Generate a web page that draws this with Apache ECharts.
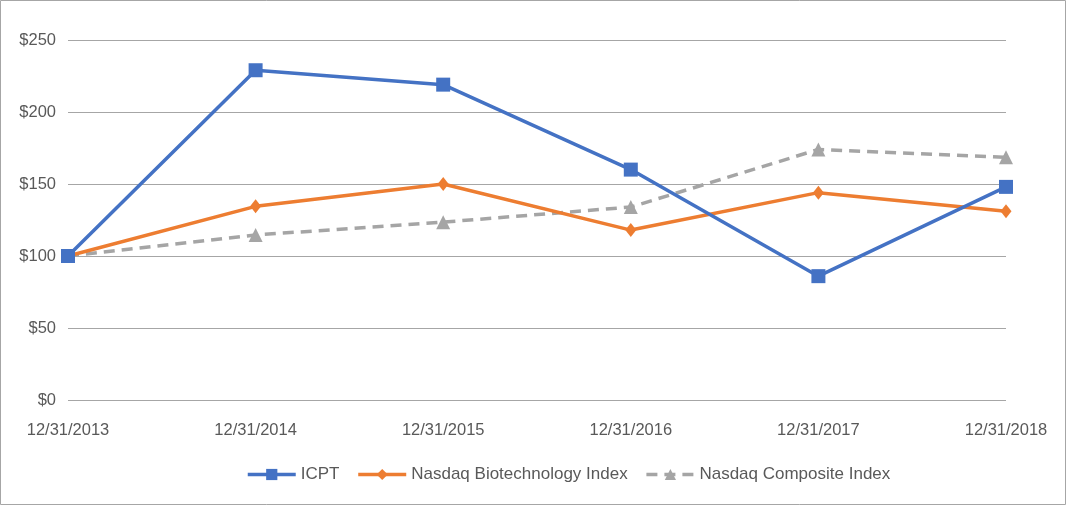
<!DOCTYPE html>
<html><head><meta charset="utf-8">
<script src="https://cdn.jsdelivr.net/npm/echarts@6/dist/echarts.min.js"></script>
<style>html,body{margin:0;padding:0;background:#fff}#c{width:1067px;height:506px}</style>
</head><body><div id="c"></div>
<script>
const categories = ['12/31/2013','12/31/2014','12/31/2015','12/31/2016','12/31/2017','12/31/2018'];
const icpt = [100, 229, 219, 160, 86, 148];
const nbi = [100, 134.5, 150, 118, 144, 131];
const nci = [100, 114.6, 123.5, 134, 174, 168.5];
const yTicks = [0, 50, 100, 150, 200, 250];

const chart = echarts.init(document.getElementById('c'), null, {renderer:'canvas'});
const font = '"Liberation Sans", Arial, sans-serif';
chart.setOption({
  animation:false,
  backgroundColor:'#fff',
  textStyle:{fontFamily:font},
  graphic:[{type:'rect', shape:{x:0.5,y:0.5,width:1065,height:504}, style:{fill:'none',stroke:'#a6a6a6',lineWidth:1}, silent:true}],
  grid:{left:68, right:61, top:40, bottom:106},
  legend:{
    top:461, left:241, itemWidth:48, itemHeight:14, itemGap:17,
    lineStyle:{width:3.5},
    textStyle:{color:'#595959', fontSize:17, fontFamily:font},
    data:['ICPT','Nasdaq Biotechnology Index','Nasdaq Composite Index']
  },
  xAxis:{
    type:'category', data:categories, boundaryGap:false,
    axisLine:{show:false}, axisTick:{show:false},
    axisLabel:{color:'#595959', fontSize:16.5, margin:22, fontFamily:font}
  },
  yAxis:{
    type:'value', min:yTicks[0], max:yTicks[yTicks.length-1], interval:50,
    axisLine:{show:false}, axisTick:{show:false},
    splitLine:{lineStyle:{color:'#a6a6a6', width:1}},
    axisLabel:{color:'#595959', fontSize:16.5, margin:12, fontFamily:font, formatter:v=>'$'+v}
  },
  series:[
    {name:'ICPT', type:'line', data:icpt, symbol:'rect', symbolSize:14,
     lineStyle:{color:'#4472c4', width:3.5}, itemStyle:{color:'#4472c4'}, z:3},
    {name:'Nasdaq Biotechnology Index', type:'line', data:nbi, symbol:'diamond', symbolSize:[11,14],
     lineStyle:{color:'#ed7d31', width:3.5}, itemStyle:{color:'#ed7d31'}, z:2},
    {name:'Nasdaq Composite Index', type:'line', data:nci, symbol:'triangle', symbolSize:[14,14],
     lineStyle:{color:'#a5a5a5', width:3.5, type:[11,7]}, itemStyle:{color:'#a5a5a5'}, z:1}
  ]
});
</script></body></html>
